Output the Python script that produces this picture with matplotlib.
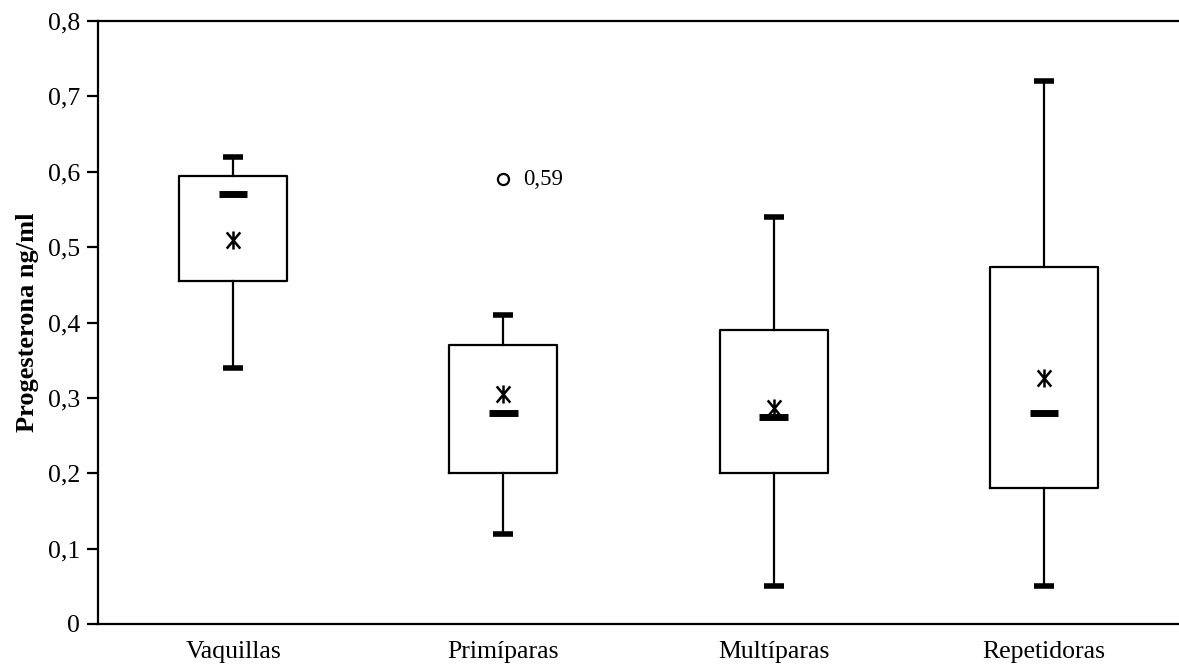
import numpy as np
import matplotlib.pyplot as plt
from matplotlib.path import Path
from matplotlib.ticker import FuncFormatter

plt.rcParams['font.family'] = ['Liberation Serif', 'DejaVu Serif']

# datos
grupos = ['Vaquillas', 'Primíparas', 'Multíparas', 'Repetidoras']
minimos = [0.34, 0.12, 0.05, 0.05]
q1 = [0.455, 0.20, 0.20, 0.18]
medianas = [0.57, 0.28, 0.275, 0.28]
medias = [0.51, 0.305, 0.287, 0.327]
q3 = [0.595, 0.37, 0.39, 0.473]
maximos = [0.62, 0.41, 0.54, 0.72]
atipicos = [[], [0.59], [], []]

stats = []
for i in range(len(grupos)):
    stats.append(dict(label=grupos[i], whislo=minimos[i], q1=q1[i], med=medianas[i],
                      q3=q3[i], whishi=maximos[i], mean=medias[i], fliers=atipicos[i]))

pos = np.arange(1, len(grupos) + 1)

# marcador de la media: aspa con barra vertical
asterisco = Path([(-0.75, -0.9), (0.75, 0.9), (-0.75, 0.9), (0.75, -0.9), (0, -1), (0, 1)],
                 [Path.MOVETO, Path.LINETO, Path.MOVETO, Path.LINETO, Path.MOVETO, Path.LINETO])

fig = plt.figure(figsize=(11.79, 6.71), dpi=100)
ax = fig.add_axes([98 / 1179, 47 / 671, 1 - 98 / 1179, 603 / 671])

ax.bxp(stats, positions=pos, widths=0.40, capwidths=0.074, showmeans=True,
       boxprops=dict(color='black', linewidth=1.6),
       whiskerprops=dict(color='black', linewidth=1.6),
       capprops=dict(color='black', linewidth=4.0, solid_capstyle='butt'),
       medianprops=dict(linewidth=0),
       meanprops=dict(marker=asterisco, markersize=13, markeredgecolor='black',
                      markeredgewidth=1.8, markerfacecolor='none'),
       flierprops=dict(marker='o', markersize=8, markerfacecolor='white',
                       markeredgecolor='black', markeredgewidth=1.6))

# mediana como barra corta gruesa
ax.hlines(medianas, pos - 0.053, pos + 0.053, colors='black', linewidth=5.0,
          capstyle='butt')

# etiqueta del atípico
for i, fl in enumerate(atipicos):
    for v in fl:
        ax.annotate(f'{v:.2f}'.replace('.', ','), (pos[i], v), xytext=(14, 0),
                    textcoords='offset points', va='center', ha='left', fontsize=16.5)

ax.set_xlim(0.5, 4.5)
ax.set_ylim(0, 0.8)
ax.set_yticks(np.arange(0, 0.81, 0.1))
ax.yaxis.set_major_formatter(FuncFormatter(lambda v, p: '0' if abs(v) < 1e-9 else f'{v:.1f}'.replace('.', ',')))
ax.set_xticks(pos)
ax.set_xticklabels(grupos)
ax.tick_params(axis='x', length=0, pad=12, labelsize=18.5)
ax.tick_params(axis='y', length=8, width=1.6, labelsize=18.5, pad=5)
ax.set_ylabel('Progesterona ng/ml', fontsize=19, fontweight='bold', labelpad=6)

for s in ['left', 'bottom', 'top']:
    ax.spines[s].set_linewidth(1.6)
ax.spines['right'].set_visible(False)

fig.savefig('out.png', dpi=100)
